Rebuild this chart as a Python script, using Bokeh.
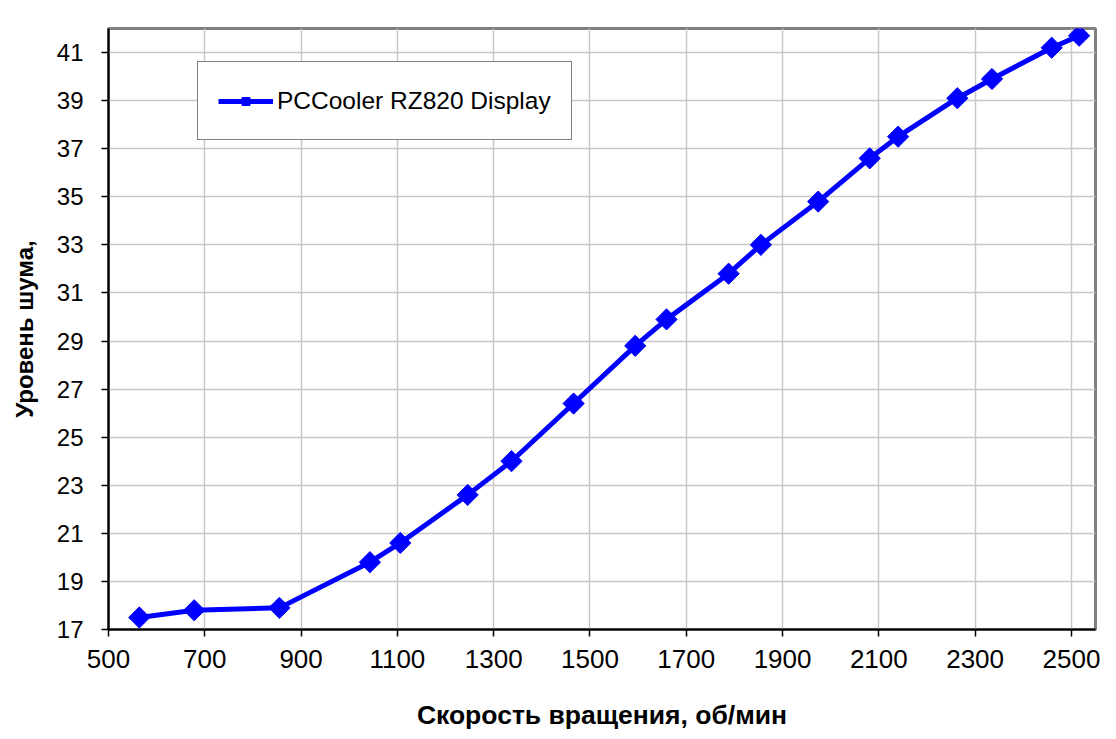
import math
from bokeh.plotting import figure
from bokeh.models import FixedTicker, Range1d
from bokeh.embed import file_html
from bokeh.resources import INLINE

# Data
rpm = [564, 678, 855, 1043, 1106, 1246, 1337, 1466, 1594, 1659, 1788, 1855,
       1974, 2081, 2140, 2263, 2335, 2459, 2516]
noise = [17.5, 17.8, 17.9, 19.8, 20.6, 22.6, 24.0, 26.4, 28.8, 29.9, 31.8, 33.0,
         34.8, 36.6, 37.5, 39.1, 39.9, 41.2, 41.7]
series_name = "PCCooler RZ820 Display"
x_ticks = [500, 700, 900, 1100, 1300, 1500, 1700, 1900, 2100, 2300, 2500]
y_ticks = [17, 19, 21, 23, 25, 27, 29, 31, 33, 35, 37, 39, 41]
x_title = "Скорость вращения, об/мин"
y_title = "Уровень шума,"

FONT = "Liberation Sans"

p = figure(frame_width=987, frame_height=601,
           min_border_left=108, min_border_top=28, min_border_right=6,
           min_border_bottom=102,
           x_range=Range1d(500, 2550), y_range=Range1d(17, 42),
           output_backend="svg", toolbar_location=None,
           background_fill_color="white", border_fill_color="white")

p.line(rpm, noise, line_color="#0000FF", line_width=5, legend_label=series_name)
p.scatter(rpm, noise, marker="square", size=15, angle=math.pi / 4,
          fill_color="#0000FF", line_color="#0000FF", legend_label=series_name)

# Grid
p.xgrid.ticker = FixedTicker(ticks=x_ticks)
p.ygrid.ticker = FixedTicker(ticks=y_ticks)
for g in (p.xgrid, p.ygrid):
    g.grid_line_color = "#C8C8C8"
    g.grid_line_width = 1.5

# Outline
p.outline_line_color = "#808080"
p.outline_line_width = 3

# Axes
p.xaxis.ticker = FixedTicker(ticks=x_ticks)
p.yaxis.ticker = FixedTicker(ticks=y_ticks)
for ax in (p.xaxis[0], p.yaxis[0]):
    ax.axis_line_color = "black"
    ax.axis_line_width = 2
    ax.major_tick_line_color = "black"
    ax.major_tick_line_width = 1.5
    ax.major_tick_out = 7
    ax.major_tick_in = 0
    ax.minor_tick_out = 0
    ax.minor_tick_in = 0
    ax.major_label_text_font = FONT
    ax.major_label_text_color = "black"
    ax.axis_label_text_font = FONT
    ax.axis_label_text_font_style = "bold"
    ax.axis_label_text_color = "black"

p.xaxis.major_label_text_font_size = "26px"
p.yaxis.major_label_text_font_size = "24px"
p.xaxis.axis_label_text_font_size = "26.5px"
p.yaxis.axis_label_text_font_size = "24px"
p.xaxis.axis_label = x_title
p.yaxis.axis_label = y_title
p.xaxis.major_label_standoff = 13
p.yaxis.major_label_standoff = 18
p.xaxis.axis_label_standoff = 29
p.yaxis.axis_label_standoff = 16

# Legend
leg = p.legend[0]
leg.location = (89, 489)
leg.border_line_color = "black"
leg.border_line_width = 1.5
leg.background_fill_color = "white"
leg.background_fill_alpha = 1
leg.label_text_font = FONT
leg.label_text_font_size = "24.5px"
leg.label_text_color = "black"
leg.glyph_width = 55
leg.glyph_height = 20
leg.label_height = 37
leg.label_standoff = 4
leg.padding = 20
leg.margin = 0

open("out.html", "w").write(file_html(p, INLINE))
